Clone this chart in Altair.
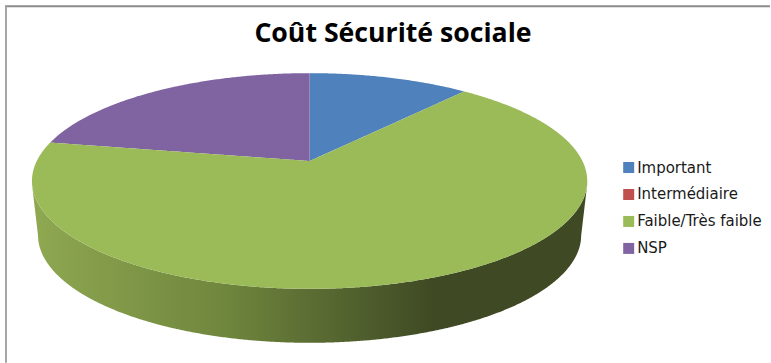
import numpy as np
import pandas as pd
import altair as alt

# Survey shares, in percent of the full turn
categories = ["Important", "Intermédiaire", "Faible/Très faible", "NSP"]
shares = [9.4, 0.0, 71.4, 19.2]
palette = ["#4f81bd", "#c0504d", "#9bbb59", "#8064a2"]

W, H = 771, 363
CX, CY, RX, RY = 310.0, 181.0, 278.0, 108.0   # upper face of the disc
APEX_Y = 161.0                                # where the wedges meet
BOTTOM_CY, BOTTOM_RX = 235.0, 272.0           # lower rim of the disc


def rim(turn):
    a = 2 * np.pi * np.asarray(turn, dtype=float)
    return CX + RX * np.sin(a), CY - RY * np.cos(a)


def upper_y(x):
    return CY - RY * np.sqrt(np.clip(1 - ((x - CX) / RX) ** 2, 0, 1))


def lower_y(x):
    return CY + RY * np.sqrt(np.clip(1 - ((x - CX) / RX) ** 2, 0, 1))


def spoke_y(x, end_x, end_y):
    return APEX_Y + (x - CX) / (end_x - CX) * (end_y - APEX_Y)


# Wedge boundaries as fractions of a turn, clockwise from twelve o'clock
b1 = shares[0] / 100
b2 = (shares[0] + shares[1] + shares[2]) / 100
x1, y1 = rim(b1)
x2, y2 = rim(b2)
XL, XR = CX - RX, CX + RX

rows = []
# first wedge: above the spoke, below the rim
for x in np.linspace(CX, x1, 80):
    rows.append((categories[0], x, upper_y(x), spoke_y(x, x1, y1)))
# last wedge
for x in np.linspace(x2, CX, 160):
    rows.append((categories[3], x, upper_y(x), spoke_y(x, x2, y2)))
# largest wedge spans the whole width, so it is split along the x axis
xs = np.unique(np.concatenate([
    XL + RX * (1 - np.cos(np.linspace(0, np.pi, 500))),
    [x2, CX, x1],
]))
for x in xs:
    if x <= x2 or x >= x1:
        top = upper_y(x)
    elif x <= CX:
        top = spoke_y(x, x2, y2)
    else:
        top = spoke_y(x, x1, y1)
    rows.append((categories[2], x, top, lower_y(x)))
faces = pd.DataFrame(rows, columns=["cat", "x", "y", "y2"])

# Side wall of the disc between the two lower rims
side_x = XL + RX * (1 - np.cos(np.linspace(0, np.pi, 500)))
side_top = lower_y(side_x)
side_bottom = []
for x in side_x:
    d = abs(x - CX)
    if d <= BOTTOM_RX:
        side_bottom.append(BOTTOM_CY + RY * np.sqrt(1 - (d / BOTTOM_RX) ** 2))
    else:
        t = (d - BOTTOM_RX) / (RX - BOTTOM_RX)
        side_bottom.append(BOTTOM_CY + t * (CY + 3 - BOTTOM_CY))
side = pd.DataFrame({"x": side_x, "y": side_top, "y2": side_bottom})

x_scale = alt.Scale(domain=[0, W], range=[0, W], nice=False, zero=False)
y_scale = alt.Scale(domain=[0, H], range=[0, H], nice=False, zero=False)
px = alt.X("x:Q", scale=x_scale, axis=None)
py = alt.Y("y:Q", scale=y_scale, axis=None)

wall = alt.Chart(side).mark_area(
    color=alt.Gradient(
        gradient="linear", x1=0, x2=1, y1=0, y2=0,
        stops=[
            alt.GradientStop(offset=0.0, color="#8fa851"),
            alt.GradientStop(offset=0.35, color="#6f863d"),
            alt.GradientStop(offset=0.72, color="#3f4a24"),
            alt.GradientStop(offset=1.0, color="#3f4a24"),
        ],
    )
).encode(x=px, y=py, y2="y2:Q")

# The explicit domain keeps the zero-share category in the legend
wedges = alt.Chart(faces).mark_area(interpolate="linear").encode(
    x=px,
    y=py,
    y2="y2:Q",
    color=alt.Color(
        "cat:N",
        scale=alt.Scale(domain=categories, range=palette),
        legend=alt.Legend(
            title=None, orient="none", legendX=622, legendY=160,
            symbolType="square", symbolSize=121, symbolStrokeWidth=0,
            labelFont="DejaVu Sans", labelFontSize=15, labelColor="#1a1a1a",
            rowPadding=11, labelOffset=1, labelLimit=200, padding=0,
        ),
    ),
    detail="cat:N",
)

heading = alt.Chart(pd.DataFrame({"t": ["Coût Sécurité sociale"]})).mark_text(
    font="Open Sans", fontWeight="bold", fontSize=26.7, color="#000000",
    align="center", baseline="middle",
).encode(text="t:N", x=alt.value(393.5), y=alt.value(34))

frame_top = alt.Chart(pd.DataFrame({"k": [0]})).mark_rule(
    color="#8c8c8c", strokeWidth=2
).encode(x=alt.value(5), x2=alt.value(W), y=alt.value(6))
frame_left = alt.Chart(pd.DataFrame({"k": [0]})).mark_rule(
    color="#a6a6a6", strokeWidth=2
).encode(x=alt.value(6), y=alt.value(6), y2=alt.value(H))

chart = (
    alt.layer(frame_top, frame_left, wall, wedges, heading)
    .properties(width=W, height=H, padding=0, background="#ffffff")
    .configure_view(stroke=None)
)

chart.save("out.html", embed_options={"renderer": "svg", "actions": False})
